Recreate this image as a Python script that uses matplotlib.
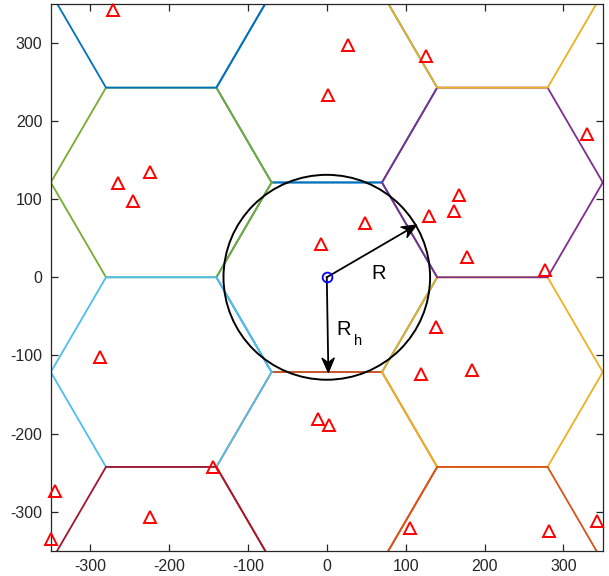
import numpy as np
import matplotlib
matplotlib.use("Agg")
import matplotlib.pyplot as plt
from matplotlib.patches import Circle, Polygon

plt.rcParams['font.family'] = ['Liberation Sans', 'DejaVu Sans']
plt.rcParams['axes.unicode_minus'] = False

# Cell geometry
hex_radius = 140.0          # circumradius of a hexagonal cell
coverage_radius = 131.0     # radius R of the drawn circle

# Hexagon lattice indices (column, row) in drawing order, with line colours
hex_col = [0, 0, 0, 1, 1, -1, -1, -1, -1, 1, 1]
hex_row = [0, 1, -1, -1, 0, 1, 0, -1, 2, -2, 1]
hex_colors = ['#0072BD', '#0072BD', '#D95319', '#EDB120', '#7E2F8E', '#77AC30',
              '#4DBEEE', '#A2142F', '#0072BD', '#D95319', '#EDB120']

# User positions
user_x = [-271, 27, 126, 1, 330, -265, -224, -246, -7, 48, 129, 161, 168, 178,
          277, 139, 119, 184, -11, 3, -288, -144, -345, -224, -350, 105, 282, 343]
user_y = [342, 297, 283, 233, 183, 120, 134, 97, 42, 70, 79, 85, 105, 26,
          9, -63, -124, -118, -181, -189, -102, -242, -273, -306, -335, -320, -325, -312]

# Arrow end points for R and R_h
arrow_R_end = (114, 67)
arrow_Rh_end = (2, -122)

tick_vals = [-300, -200, -100, 0, 100, 200, 300]
lim = 350

fig = plt.figure(figsize=(6.09, 5.76), dpi=100)
ax = fig.add_axes([0.0834, 0.0434, 0.9064, 0.9504])

# Hexagonal cells
ang = np.deg2rad(np.arange(0, 361, 60))
for c, r, col in zip(hex_col, hex_row, hex_colors):
    cx = 1.5 * hex_radius * c
    cy = np.sqrt(3) * hex_radius * (r + c / 2.0)
    ax.plot(cx + hex_radius * np.cos(ang), cy + hex_radius * np.sin(ang),
            color=col, lw=1.3, solid_joinstyle='miter')

# Users
ax.plot(user_x, user_y, linestyle='none', marker='^', ms=9, mfc='none',
        mec='#FF0000', mew=1.4, clip_on=False, zorder=5)

# Coverage circle
ax.add_patch(Circle((0, 0), coverage_radius, fill=False, ec='black', lw=1.4, zorder=4))


def arrow(ax, start, end, head_len=19.0, head_w=8.0, notch=6.0):
    s = np.array(start, float)
    e = np.array(end, float)
    d = e - s
    L = np.hypot(*d)
    u = d / L
    n = np.array([-u[1], u[0]])
    back = e - u * head_len
    notch_pt = e - u * (head_len - notch)
    ax.plot([s[0], notch_pt[0]], [s[1], notch_pt[1]], color='black', lw=1.3, zorder=6)
    head = Polygon([e, back + n * head_w, notch_pt, back - n * head_w],
                   closed=True, fc='black', ec='black', lw=0.8, zorder=6)
    ax.add_patch(head)


arrow(ax, (0, 0), arrow_R_end)
arrow(ax, (0, 0), arrow_Rh_end)

# Base station
ax.plot([0], [0], linestyle='none', marker='o', ms=7, mfc='none', mec='#0000FF',
        mew=1.3, zorder=7)

ax.text(56, -2.5, 'R', fontsize=14.5, ha='left', va='baseline', zorder=8)
ax.text(12, -74, 'R', fontsize=14.5, ha='left', va='baseline', zorder=8)
ax.text(34, -87, 'h', fontsize=10.5, ha='left', va='baseline', zorder=8)

ax.set_xlim(-lim, lim)
ax.set_ylim(-lim, lim)
ax.set_xticks(tick_vals)
ax.set_yticks(tick_vals)
ax.tick_params(direction='in', length=5, width=0.9, top=True, right=True,
               labelsize=11.5, colors='#262626', pad=6)
for sp in ax.spines.values():
    sp.set_color('#262626')
    sp.set_linewidth(0.9)

fig.savefig('out.png', dpi=100)
